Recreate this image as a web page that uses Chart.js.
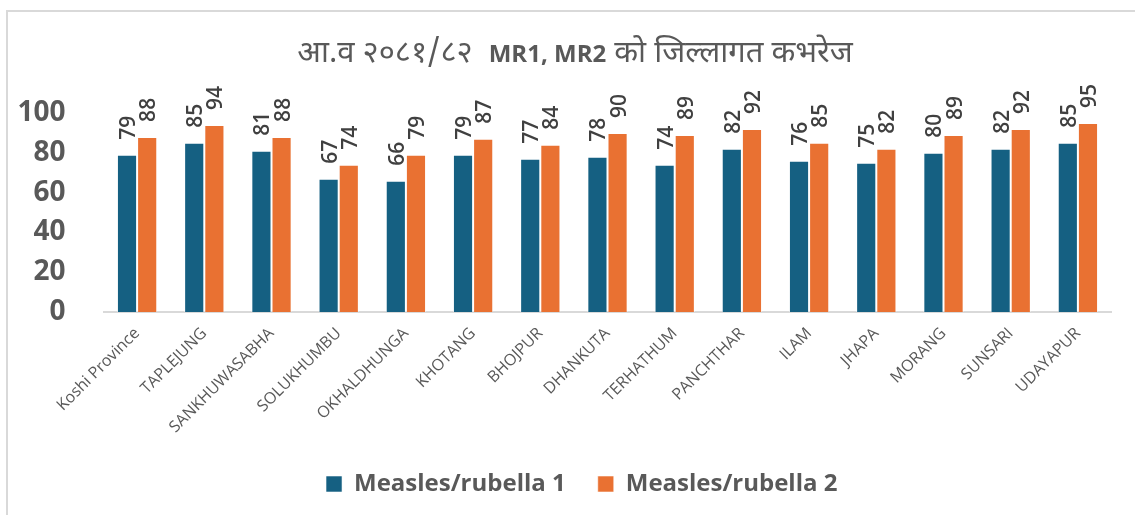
<!DOCTYPE html>
<html>
<head>
<meta charset="utf-8">
<script src="https://cdn.jsdelivr.net/npm/chart.js@4"></script>
<style>
  html, body { margin: 0; padding: 0; background: #fff; }
  #wrap { position: relative; width: 1135px; height: 515px; }
</style>
</head>
<body>
<div id="wrap"><canvas id="mrChart" width="1135" height="515"></canvas></div>
<script>
// data
const districts = ['Koshi Province', 'TAPLEJUNG', 'SANKHUWASABHA', 'SOLUKHUMBU', 'OKHALDHUNGA',
  'KHOTANG', 'BHOJPUR', 'DHANKUTA', 'TERHATHUM', 'PANCHTHAR', 'ILAM', 'JHAPA', 'MORANG', 'SUNSARI', 'UDAYAPUR'];
const mr1 = [79, 85, 81, 67, 66, 79, 77, 78, 74, 82, 76, 75, 80, 82, 85];
const mr2 = [88, 94, 88, 74, 79, 87, 84, 90, 89, 92, 85, 82, 89, 92, 95];
const seriesNames = ['Measles/rubella 1', 'Measles/rubella 2'];
const yTicks = [0, 20, 40, 60, 80, 100];

const titleParts = [
  { text: 'आ.व २०८१/८२  ', font: '31px "Noto Sans Devanagari", "Noto Sans", sans-serif' },
  { text: 'MR1, MR2', font: 'bold 24px "Open Sans", sans-serif' },
  { text: ' को जिल्लागत कभरेज', font: '31px "Noto Sans Devanagari", "Noto Sans", sans-serif' }
];

const extras = {
  id: 'extras',
  afterLayout(chart) {
    // legend sits a little right of centre in the original
    chart.legend.left += 26;
    chart.legend.right += 26;
  },
  beforeDraw(chart) {
    const c = chart.ctx;
    c.save();
    c.fillStyle = '#d9d9d9';
    c.fillRect(6, 10, 2, 505);
    c.fillRect(6, 10, 1129, 2);
    c.restore();
  },
  afterDraw(chart) {
    const c = chart.ctx;
    c.save();
    c.fillStyle = '#595959';
    c.textBaseline = 'alphabetic';
    let total = 0;
    titleParts.forEach(p => { c.font = p.font; total += c.measureText(p.text).width; });
    let x = 575 - total / 2;
    titleParts.forEach(p => {
      c.font = p.font;
      c.fillText(p.text, x, 62);
      x += c.measureText(p.text).width;
    });
    c.restore();
  },
  afterDatasetsDraw(chart) {
    const c = chart.ctx;
    c.save();
    c.fillStyle = '#404040';
    c.font = '600 21px "Open Sans", sans-serif';
    c.textAlign = 'left';
    c.textBaseline = 'middle';
    chart.data.datasets.forEach((ds, i) => {
      chart.getDatasetMeta(i).data.forEach((bar, j) => {
        c.save();
        c.translate(bar.x + 2, bar.y - 15);
        c.rotate(-Math.PI / 2);
        c.fillText(ds.data[j], 0, 0);
        c.restore();
      });
    });
    c.restore();
  }
};

const ctx = document.getElementById('mrChart').getContext('2d');
const myChart = new Chart(ctx, {
  type: 'bar',
  data: {
    labels: districts,
    datasets: [{
      label: seriesNames[0],
      data: mr1,
      backgroundColor: '#156082',
      borderColor: 'rgba(255,255,255,0.55)',
      borderWidth: 1
    }, {
      label: seriesNames[1],
      data: mr2,
      backgroundColor: '#E97132',
      borderColor: 'rgba(255,255,255,0.55)',
      borderWidth: 1
    }]
  },
  options: {
    responsive: false,
    animation: false,
    layout: { padding: { top: 113, right: 23.5, left: 0, bottom: 9 } },
    datasets: { bar: { barPercentage: 1, categoryPercentage: 0.6 } },
    plugins: {
      title: { display: false },
      tooltip: { enabled: false },
      legend: {
        position: 'bottom',
        labels: {
          color: '#595959',
          font: { family: '"Open Sans", sans-serif', size: 24, weight: 'bold' },
          boxWidth: 16,
          boxHeight: 16,
          padding: 32
        }
      }
    },
    scales: {
      x: {
        grid: { display: false },
        border: { display: true, color: '#d9d9d9', width: 2 },
        ticks: {
          color: '#595959',
          font: { family: '"Open Sans", sans-serif', size: 16 },
          maxRotation: 45,
          minRotation: 45,
          autoSkip: false,
          padding: 4
        },
        afterFit(scale) { scale.height = 128; }
      },
      y: {
        min: 0,
        max: 100,
        grid: { display: false },
        border: { display: false },
        afterBuildTicks(scale) { scale.ticks = yTicks.map(v => ({ value: v })); },
        ticks: {
          color: '#595959',
          font: { family: '"Open Sans", sans-serif', size: 28, weight: 'bold' },
          padding: 30
        },
        afterFit(scale) { scale.width = 103.5; }
      }
    }
  },
  plugins: [extras]
});
</script>
</body>
</html>
